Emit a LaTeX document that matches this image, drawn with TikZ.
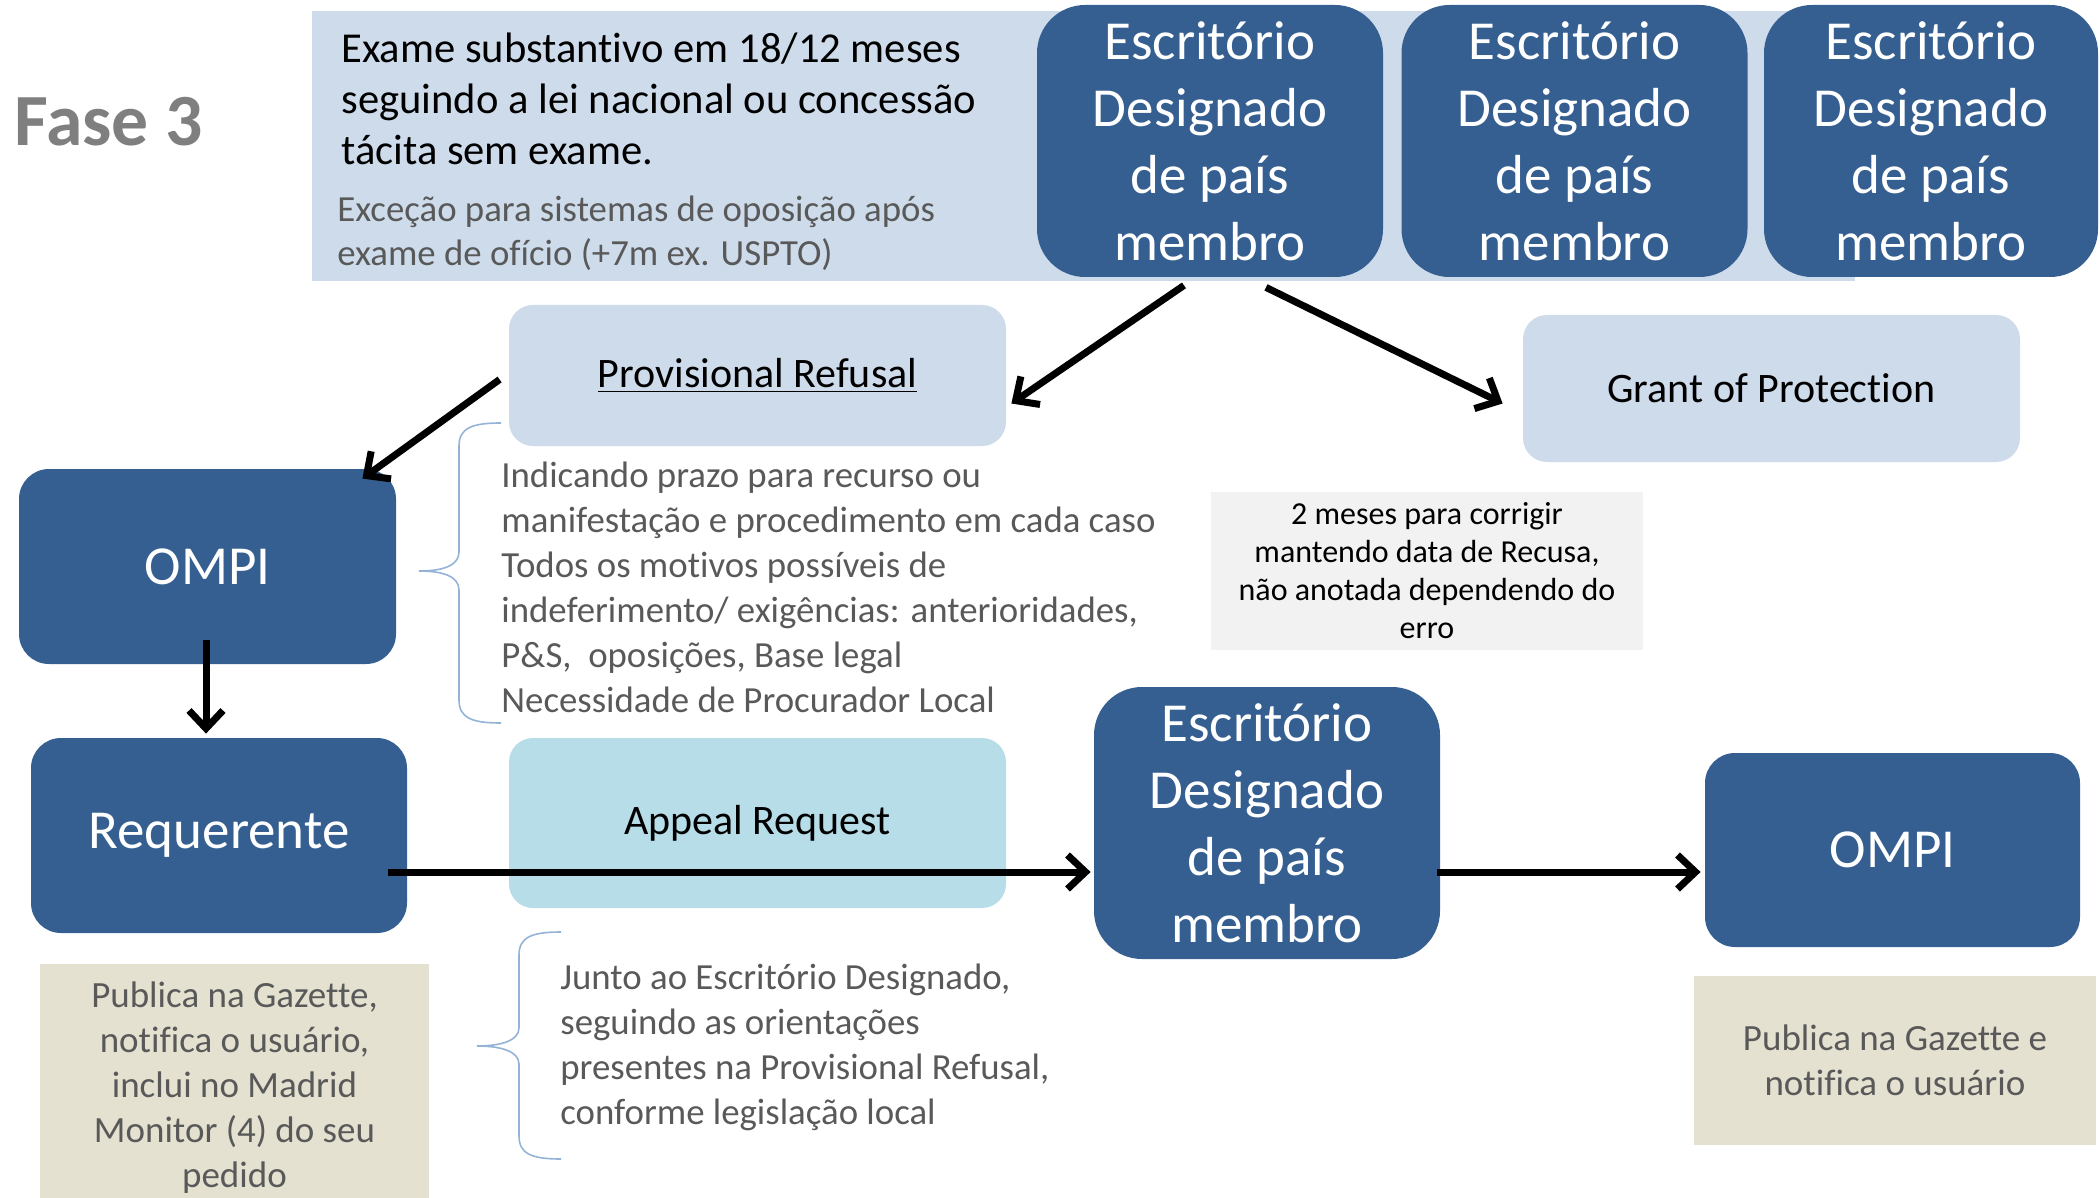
\documentclass[tikz,border=0pt]{standalone}
\usepackage{fontspec}
\setmainfont{Carlito}[Ligatures={NoCommon}]
\usetikzlibrary{arrows.meta}
\definecolor{omblue}{RGB}{54,95,145}
\definecolor{bandblue}{RGB}{205,219,235}
\definecolor{appealblue}{RGB}{182,221,232}
\definecolor{notegray}{RGB}{242,242,242}
\definecolor{tanfill}{RGB}{228,225,209}
\definecolor{bracecol}{RGB}{149,179,215}
\definecolor{txtgray}{RGB}{89,89,89}
\definecolor{fasegray}{RGB}{127,127,127}

\begin{document}
\begin{tikzpicture}[x=0.5pt,y=0.5pt,yscale=-1,xscale=1,
  darkbox/.style={fill=omblue, rounded corners=15pt, text=white, align=center, inner sep=0pt, font=\fontsize{27.5}{33.5}\selectfont},
  escbox/.style={darkbox, rounded corners=24pt, minimum width=173pt, minimum height=136pt},
  lightbox/.style={fill=bandblue, rounded corners=12pt, inner sep=0pt, align=center, font=\fontsize{21}{25.5}\selectfont},
  tanbox/.style={fill=tanfill, inner sep=0pt, align=center, text=txtgray, font=\fontsize{18.5}{22.5}\selectfont},
  graytext/.style={anchor=west, align=left, inner sep=0pt, text=txtgray, font=\fontsize{18.4}{22.5}\selectfont},
  brace/.style={draw=bracecol, line width=0.8pt},
  arr/.style={line width=3.5pt, -{Straight Barb[length=9pt,width=17pt]}}]
\useasboundingbox (0,0) rectangle (2100,1198);

%Shape: Rectangle [band]
\fill [bandblue] (312,11) rectangle (1855,281);

% Text Node
\node (fase) [anchor=west, inner sep=0pt, text=fasegray, font=\fontsize{36.8}{43}\selectfont\bfseries] at (14,122) {Fase 3};
% Text Node
\node (exame) [anchor=west, align=left, inner sep=0pt, font=\fontsize{21.3}{25.5}\selectfont] at (341,99) {Exame substantivo em 18/12 meses\\seguindo a lei nacional ou concessão\\tácita sem exame.};
% Text Node
\node (excecao) [graytext, font=\fontsize{18.4}{22}\selectfont] at (337,233) {Exceção para sistemas de oposição após\\exame de ofício (+7m ex. USPTO)};

%Shape: Rounded Rect [escritorios]
\node (esc1) [escbox] at (1210,141) {Escritório\\Designado\\de país\\membro};
\node (esc2) [escbox] at (1574.5,141) {Escritório\\Designado\\de país\\membro};
\node (esc3) [escbox, minimum width=167pt] at (1931,141) {Escritório\\Designado\\de país\\membro};

%Shape: Rounded Rect [refusal / grant]
\node (prov) [lightbox, minimum width=248.5pt, minimum height=70.5pt] at (757.5,375.5) {\underline{Provisional Refusal}};
\node (grant) [lightbox, minimum width=248.5pt, minimum height=73.5pt] at (1771.5,388.5) {Grant of Protection};

%Shape: Rounded Rect [ompi / requerente]
\node (ompi1) [darkbox, minimum width=188.5pt, minimum height=97.5pt] at (207.5,566.5) {OMPI};
\node (req) [darkbox, minimum width=188pt, minimum height=97.5pt] at (219,835.5) {Requerente};

%Shape: Rounded Rect [appeal]
\node (appeal) [lightbox, fill=appealblue, minimum width=248.5pt, minimum height=85pt] at (757.5,823) {Appeal Request};

%Shape: Rounded Rect [escritorio / ompi]
\node (esc4) [escbox] at (1267,823) {Escritório\\Designado\\de país\\membro};
\node (ompi2) [darkbox, minimum width=187.5pt, minimum height=97pt] at (1892.5,850) {OMPI};

% Text Node
\node (nota) [fill=notegray, inner sep=0pt, align=center, minimum width=216pt, minimum height=79pt, font=\fontsize{16}{19}\selectfont] at (1427,571) {2 meses para corrigir\\mantendo data de Recusa,\\não anotada dependendo do\\erro};

% Text Node
\node (motivos) [graytext] at (501,587) {Indicando prazo para recurso ou\\manifestação e procedimento em cada caso\\Todos os motivos possíveis de\\indeferimento/ exigências: anterioridades,\\P\&S,\ \ oposições, Base legal\\Necessidade de Procurador Local};
% Text Node
\node (junto) [graytext] at (560,1047) {Junto ao Escritório Designado,\\seguindo as orientações\\presentes na Provisional Refusal,\\conforme legislação local};

% Text Node
\node (pub1) [tanbox, minimum width=194.5pt, minimum height=117pt] at (234.5,1081) {};
\node (pub1txt) [tanbox, fill=none] at (234.5,1088) {Publica na Gazette,\\notifica o usuário,\\inclui no Madrid\\Monitor (4) do seu\\pedido};
\node (pub2) [tanbox, minimum width=201pt, minimum height=84.5pt] at (1895,1060.5) {Publica na Gazette e\\notifica o usuário};

%Curve Lines [braces]
\draw [brace] (501,423) .. controls (472,423) and (459,428) .. (459,446) -- (459,552) .. controls (459,566) and (442,571) .. (419,571) .. controls (442,571) and (459,576) .. (459,590) -- (459,700) .. controls (459,718) and (472,723) .. (501,723);
\draw [brace] (561,932) .. controls (532,932) and (519,937) .. (519,955) -- (519,1028) .. controls (519,1041) and (500,1046) .. (477,1046) .. controls (500,1046) and (519,1051) .. (519,1064) -- (519,1136) .. controls (519,1154) and (532,1159) .. (561,1159);

%Straight Lines [arrows]
\draw [arr] ([shift={(-26,8)}]esc1.south) -- ([shift={(5,28)}]prov.east);
\draw [arr] ([shift={(56,10)}]esc1.south) -- ([shift={(-20,15)}]grant.west);
\draw [arr] ([shift={(-9,4)}]prov.west) -- ([shift={(-34,10)}]ompi1.north east);
\draw [arr] ([shift={(-1.5,-24)}]ompi1.south) -- ([shift={(-13,-4)}]req.north);
\draw [arr] ([shift={(-19,36.5)}]req.east) -- ([shift={(-3,49)}]esc4.west);
\draw [arr] ([shift={(-3,49)}]esc4.east) -- ([shift={(-4,22)}]ompi2.west);

\end{tikzpicture}
\end{document}
